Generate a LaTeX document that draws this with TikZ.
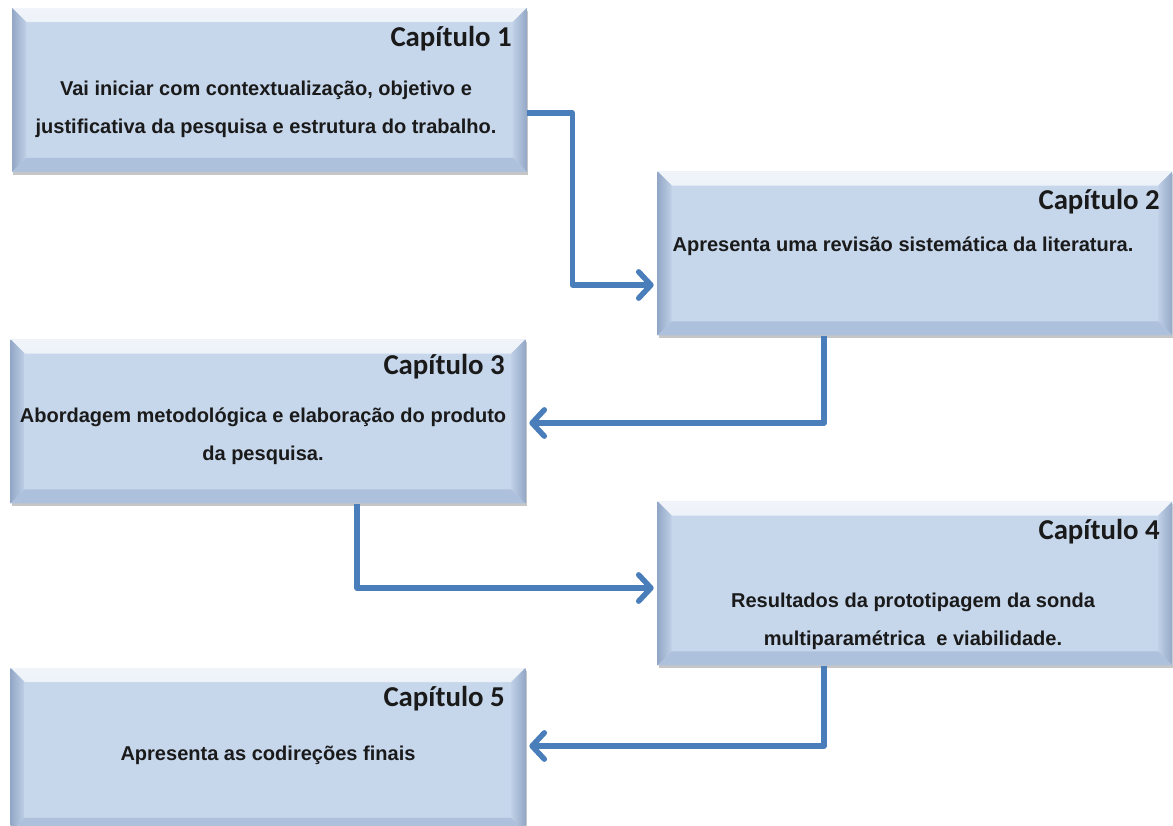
\documentclass[tikz,border=0pt]{standalone}
\usepackage{fontspec}
\setmainfont{Liberation Sans}
\newfontfamily\headfont{Carlito}
\usepackage{tikz}
\usetikzlibrary{arrows.meta,shadows,positioning}

\definecolor{boxfill}{HTML}{C6D6EB}
\definecolor{bevside}{HTML}{93A8C7}
\definecolor{bevlow}{HTML}{AEC1DC}
\definecolor{linkblue}{HTML}{4A7EBB}
\definecolor{inktext}{HTML}{1A1A1A}
\def\bevw{0.28cm}

\begin{document}
\begin{tikzpicture}[x=0.02cm,y=-0.02cm]
            \useasboundingbox (0,0) rectangle (1173,825);

            \tikzstyle{chapter}=[rectangle,minimum width=10.3cm,minimum height=3.28cm,inner sep=0pt,
              fill=boxfill,drop shadow={shadow xshift=0.6pt,shadow yshift=-1.6pt,opacity=0.45},
              path picture={
                \fill[top color=white!75!boxfill,bottom color=boxfill]
                  (path picture bounding box.north west) -- (path picture bounding box.north east)
                  -- ([shift={(-\bevw,-\bevw)}]path picture bounding box.north east)
                  -- ([shift={(\bevw,-\bevw)}]path picture bounding box.north west) -- cycle;
                \fill[left color=bevside,right color=boxfill!85!bevside]
                  (path picture bounding box.south west) -- (path picture bounding box.north west)
                  -- ([shift={(\bevw,-\bevw)}]path picture bounding box.north west)
                  -- ([shift={(\bevw,\bevw)}]path picture bounding box.south west) -- cycle;
                \fill[right color=bevside,left color=boxfill!85!bevside]
                  (path picture bounding box.south east) -- (path picture bounding box.north east)
                  -- ([shift={(-\bevw,-\bevw)}]path picture bounding box.north east)
                  -- ([shift={(-\bevw,\bevw)}]path picture bounding box.south east) -- cycle;
                \fill[bevlow]
                  (path picture bounding box.south west) -- (path picture bounding box.south east)
                  -- ([shift={(-\bevw,\bevw)}]path picture bounding box.south east)
                  -- ([shift={(\bevw,\bevw)}]path picture bounding box.south west) -- cycle;
              }]                                                   % chapter box
            \tikzstyle{head}=[anchor=base east,inner sep=0pt,text=inktext,
              font=\headfont\bfseries\fontsize{16.4}{19}\selectfont]  % chapter title
            \tikzstyle{body}=[align=center,inner sep=0pt,text=inktext,
              font=\bfseries\fontsize{11.4}{21.5}\selectfont]       % chapter summary
            \tikzstyle{link}=[line width=3.1pt,color=linkblue,line join=round,
              -{Straight Barb[length=7pt,width=15pt,round]},shorten >=2pt]

            \node[chapter] (b1) at (269.5, 90) {};
            \node[chapter] (b2) at (915,253.5) {};
            \node[chapter] (b3) at (268,421.5) {};
            \node[chapter] (b4) at (915,583.5) {};
            \node[chapter] (b5) at (268,750) {};

            \node[head] (h1) at ( 512,46) {Capítulo 1};
            \node[head] (h2) at (1160,209) {Capítulo 2};
            \node[head] (h3) at ( 505,374) {Capítulo 3};
            \node[head] (h4) at (1160,539) {Capítulo 4};
            \node[head] (h5) at ( 505,706) {Capítulo 5};

            \node[body] (t1) at (266,109) {Vai iniciar com contextualização, objetivo e\\justificativa da pesquisa e estrutura do trabalho.};
            \node[body] (t2) at (903,246) {Apresenta uma revisão sistemática da literatura.};
            \node[body] (t3) at (263,436.5) {Abordagem metodológica e elaboração do produto\\da pesquisa.};
            \node[body] (t4) at (913,621) {Resultados da prototipagem da sonda\\multiparamétrica\ \ e viabilidade.};
            \node[body] (t5) at (268,755) {Apresenta as codireções finais};

            \draw[link] (b1.east |- 0,113) -- ++(45,0) |- (b2.west |- 0,285);
            \draw[link] (b2.south -| 824,0) |- (b3.east |- 0,423);
            \draw[link] (b3.south -| 357,0) |- (b4.west |- 0,588);
            \draw[link] (b4.south -| 824,0) |- (b5.east |- 0,746);
        \end{tikzpicture}
\end{document}
